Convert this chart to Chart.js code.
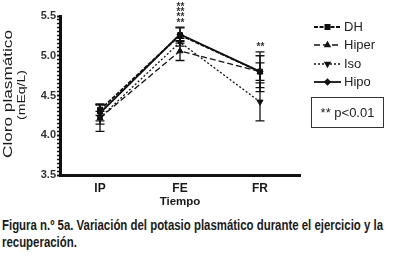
<!DOCTYPE html>
<html>
<head>
<meta charset="utf-8">
<script src="https://cdn.jsdelivr.net/npm/chart.js@4/dist/chart.umd.min.js"></script>
<style>
  html, body { margin: 0; padding: 0; background: #fff; width: 393px; height: 261px; overflow: hidden; }
  #wrap { position: absolute; left: 0; top: 0; width: 393px; height: 212px; }
  #cap { position: absolute; left: 2px; top: 217px; font-family: "Liberation Sans Narrow", "Liberation Sans", Arial, sans-serif; font-weight: bold; font-size: 14px; line-height: 17px; color: #1a1a1a; white-space: nowrap; transform-origin: 0 0; }
</style>
</head>
<body>
<div id="wrap"><canvas id="c" width="393" height="212"></canvas></div>
<div id="cap"><div id="l1">Figura n.º 5a. Variación del potasio plasmático durante el ejercicio y la</div><div>recuperación.</div></div>
<script>
// ---- data ----
const categories = ['IP', 'FE', 'FR'];
const seriesNames = ['DH', 'Hiper', 'Iso', 'Hipo'];
const dhValues    = [4.32, 5.26, 4.80];
const hiperValues = [4.22, 5.06, 4.80];
const isoValues   = [4.22, 5.17, 4.42];
const hipoValues  = [4.28, 5.27, 4.80];
const dhErr    = [0.07, 0.10, 0.20];
const hiperErr = [0.17, 0.12, 0.25];
const isoErr   = [0.08, 0.05, 0.24];
const hipoErr  = [0.10, 0.08, 0.11];
const yTickLabels = ['3.5', '4.0', '4.5', '5.0', '5.5'];
const starLabels = ['', '**\n**\n**\n**', '**'];
const yTitle = ['Cloro plasmático', '(mEq/L)'];
const xTitle = 'Tiempo';
const noteText = '** p<0.01';

const styles = [
  { dash: [4, 1.5], width: 1.8, point: 'rect', radius: 3.5 },
  { dash: [6, 3], width: 1.3, point: 'triangle', radius: 3.5 },
  { dash: [2, 2], width: 1.3, point: 'triangle', radius: 3.5, rot: 180 },
  { dash: [], width: 1.8, point: 'rectRot', radius: 3 }
];
const valueSets = [dhValues, hiperValues, isoValues, hipoValues];
const errSets = [dhErr, hiperErr, isoErr, hipoErr];

const datasets = seriesNames.map((n, i) => ({
  label: n,
  data: valueSets[i],
  err: errSets[i],
  borderColor: '#111',
  backgroundColor: '#111',
  borderWidth: styles[i].width,
  borderDash: styles[i].dash,
  pointStyle: styles[i].point,
  pointRotation: styles[i].rot || 0,
  pointRadius: styles[i].radius,
  pointBorderWidth: 1,
  pointBorderColor: '#111',
  pointBackgroundColor: '#111',
  tension: 0
}));

const FONT = '"Liberation Sans", Arial, sans-serif';

function stretchedVertical(ctx, text, cx, cy, font, length) {
  ctx.save();
  ctx.font = font;
  const w = ctx.measureText(text).width;
  ctx.translate(cx, cy);
  ctx.rotate(-Math.PI / 2);
  ctx.scale(length / w, 1);
  ctx.textAlign = 'center';
  ctx.textBaseline = 'middle';
  ctx.fillText(text, 0, 0);
  ctx.restore();
}

const extras = {
  id: 'extras',
  beforeDatasetsDraw(chart) {
    const ctx = chart.ctx;
    const x = chart.scales.x, y = chart.scales.y;
    ctx.save();
    ctx.strokeStyle = '#111';
    ctx.lineWidth = 1.3;
    chart.data.datasets.forEach(ds => {
      ds.data.forEach((v, j) => {
        const px = x.getPixelForValue(j);
        const t = y.getPixelForValue(v + ds.err[j]);
        const b = y.getPixelForValue(v - ds.err[j]);
        ctx.beginPath();
        ctx.moveTo(px, t); ctx.lineTo(px, b);
        ctx.moveTo(px - 4.5, t); ctx.lineTo(px + 4.5, t);
        ctx.moveTo(px - 4.5, b); ctx.lineTo(px + 4.5, b);
        ctx.stroke();
      });
    });
    ctx.restore();
  },
  afterDraw(chart) {
    const ctx = chart.ctx;
    const x = chart.scales.x, y = chart.scales.y;
    ctx.save();
    // stars above error bars
    ctx.fillStyle = '#333';
    ctx.font = 'bold 10px ' + FONT;
    ctx.textAlign = 'center';
    ctx.textBaseline = 'alphabetic';
    starLabels.forEach((s, j) => {
      if (!s) return;
      let top = Infinity;
      chart.data.datasets.forEach(ds => { top = Math.min(top, y.getPixelForValue(ds.data[j] + ds.err[j])); });
      const rows = s.split('\n');
      rows.forEach((r, k) => {
        ctx.fillText(r, x.getPixelForValue(j) + 0.5, top - 1.5 - (rows.length - 1 - k) * 5.3);
      });
    });
    // y title
    ctx.fillStyle = '#1a1a1a';
    stretchedVertical(ctx, yTitle[0], 8.5, 94, '13px ' + FONT, 128);
    stretchedVertical(ctx, yTitle[1], 22, 95, '10px ' + FONT, 50);
    // legend
    const lx0 = 314, lx1 = 341, ty = [27, 45, 64, 82];
    chart.data.datasets.forEach((ds, i) => {
      const st = styles[i];
      ctx.strokeStyle = '#111';
      ctx.lineWidth = st.width;
      ctx.setLineDash(st.dash);
      ctx.beginPath(); ctx.moveTo(lx0, ty[i]); ctx.lineTo(lx1, ty[i]); ctx.stroke();
      ctx.setLineDash([]);
      ctx.fillStyle = '#111';
      Chart.helpers.drawPoint(ctx, { pointStyle: st.point, radius: st.radius - 0.5, rotation: st.rot || 0, borderWidth: 1 }, (lx0 + lx1) / 2, ty[i]);
      ctx.fillStyle = '#222';
      ctx.font = '13px ' + FONT;
      ctx.textAlign = 'left';
      ctx.textBaseline = 'middle';
      ctx.fillText(ds.label, 344, ty[i] + 0.5);
    });
    // note box
    ctx.strokeStyle = '#333';
    ctx.lineWidth = 1;
    ctx.strokeRect(311.5, 97.5, 72, 30);
    ctx.fillStyle = '#222';
    ctx.font = '13px ' + FONT;
    ctx.textAlign = 'center';
    ctx.textBaseline = 'middle';
    ctx.fillText(noteText, 347.5, 113);
    ctx.restore();
  }
};

new Chart(document.getElementById('c'), {
  type: 'line',
  data: { labels: categories, datasets },
  options: {
    responsive: false,
    animation: false,
    layout: { padding: { top: 16, right: 93, left: 0, bottom: 0 } },
    plugins: { legend: { display: false }, tooltip: { enabled: false } },
    scales: {
      x: {
        type: 'category',
        offset: true,
        afterFit(s) { s.height = 37; },
        border: { display: true, width: 3, color: '#111' },
        grid: { display: true, drawOnChartArea: false, drawTicks: false },
        ticks: { padding: 6, color: '#1a1a1a', font: { family: FONT, size: 12, weight: 'bold' } },
        title: { display: true, text: xTitle, color: '#1a1a1a', padding: { top: 0, bottom: 3 }, font: { family: FONT, size: 11.5, weight: 'bold' } }
      },
      y: {
        min: 3.5, max: 5.5,
        afterFit(s) { s.width = 60; },
        border: { display: true, width: 3, color: '#111' },
        grid: {
          drawOnChartArea: false, drawTicks: true, tickLength: 3,
          tickColor: '#111',
          tickWidth: c => (Math.abs(c.tick.value * 2 - Math.round(c.tick.value * 2)) < 1e-6 ? 2 : 1.5)
        },
        ticks: {
          stepSize: 0.05, autoSkip: false, padding: 1, color: '#333',
          font: { family: FONT, size: 11, weight: 'bold' },
          callback: v => {
            const idx = Math.round((v - 3.5) * 2);
            return (Math.abs((v - 3.5) * 2 - idx) < 1e-6 && yTickLabels[idx] !== undefined) ? yTickLabels[idx] : '';
          }
        }
      }
    }
  },
  plugins: [extras]
});

// fit caption line 1 to ~381px
const cap = document.getElementById('cap');
const range = document.createRange();
range.selectNodeContents(document.getElementById('l1'));
const tw = range.getBoundingClientRect().width;
if (tw > 0) cap.style.transform = 'scaleX(' + (381 / tw) + ')';
</script>
</body>
</html>
